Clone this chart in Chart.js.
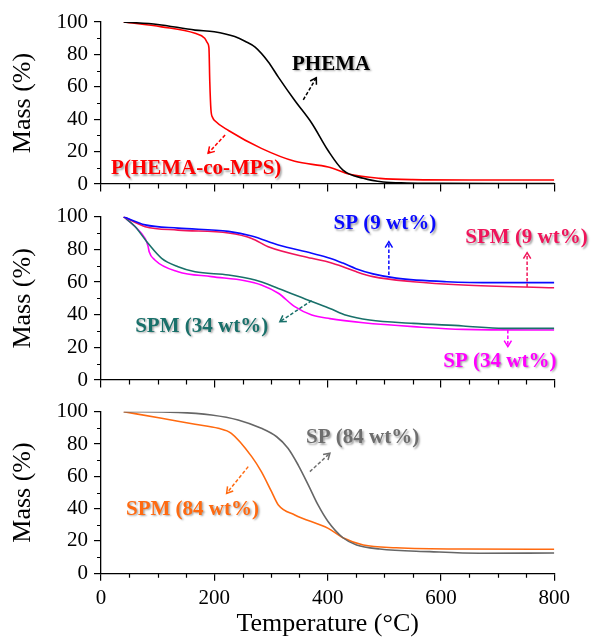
<!DOCTYPE html>
<html>
<head>
<meta charset="utf-8">
<script src="https://cdn.jsdelivr.net/npm/chart.js@4.4.1/dist/chart.umd.min.js"></script>
<style>
  html, body { margin: 0; padding: 0; background: #fff; }
  #wrap { position: relative; width: 591px; height: 640px; }
  canvas { position: absolute; left: 0; }
</style>
</head>
<body>
<div id="wrap">
  <canvas id="panelTop" width="591" height="200" style="top:0px"></canvas>
  <canvas id="panelMid" width="591" height="195" style="top:200px"></canvas>
  <canvas id="panelBot" width="591" height="245" style="top:395px"></canvas>
</div>
<script>
// --- data (temperature in °C, mass in %) ---
const phemaTemp = [40, 100, 166, 200, 236, 255, 272, 295, 313, 342, 372, 401, 427, 463, 498, 540, 600, 700, 800];
const phemaMass = [100, 98.5, 95, 94, 91, 88, 84.5, 75.5, 66, 51.5, 37.5, 20.5, 8.6, 3.5, 1.2, 0.6, 0.4, 0.3, 0.3];

const hemaMpsTemp = [40, 107, 166, 183, 188, 190.5, 192, 194, 197, 201, 225, 283, 342, 401, 439, 492, 550, 650, 800];
const hemaMpsMass = [100, 97, 93, 90, 87, 84, 63, 46, 41, 39, 33, 22, 14, 10.5, 6, 3.5, 2.7, 2.5, 2.5];

const sp9Temp = [40, 78, 136, 225, 266, 313, 372, 404, 427, 450, 480, 521, 610, 698, 800];
const sp9Mass = [100, 95, 93, 91, 88.2, 82.7, 77.6, 74.6, 71.6, 68.2, 65, 62.4, 60.2, 59.6, 59.6];

const spm9Temp = [40, 78, 136, 225, 266, 295, 372, 404, 427, 450, 480, 551, 639, 800];
const spm9Mass = [100, 93.9, 91.8, 90, 86.7, 81.6, 74.5, 72, 69.4, 66.4, 63.3, 60.2, 58.2, 56.5];

const spm34Temp = [40, 60, 83, 107, 136, 166, 225, 272, 313, 372, 404, 433, 474, 551, 639, 710, 800];
const spm34Mass = [100, 94, 83.7, 74.5, 69.4, 66.3, 64.3, 61.2, 56.1, 48, 43.8, 39.6, 36.7, 34.7, 33.1, 31.6, 31.6];

const sp34Temp = [40, 60, 78, 83, 85, 95, 136, 195, 254, 283, 313, 342, 372, 404, 463, 551, 639, 800];
const sp34Mass = [100, 94, 86.5, 82, 78.6, 73.5, 66.3, 63.3, 60.8, 58.2, 53.1, 44.9, 39.8, 37.6, 35.1, 32.7, 31, 30.6];

const sp84Temp = [40, 136, 195, 242, 283, 310, 330, 348, 366, 383, 401, 427, 451, 492, 580, 668, 800];
const sp84Mass = [100, 99.6, 98, 94.9, 89.7, 84.5, 77.4, 67, 54.6, 42.3, 31.9, 22, 17.5, 15, 13.4, 12.4, 12.6];

const spm84Temp = [40, 107, 166, 207, 230, 266, 283, 301, 313, 342, 401, 427, 463, 521, 639, 800];
const spm84Mass = [100, 95.9, 92.2, 89.7, 86.6, 72.2, 62.9, 50.5, 42.3, 36.1, 27.8, 22, 17.5, 15.8, 15, 14.9];

// minor tick values
const xMinor = [50, 100, 150, 250, 300, 350, 450, 500, 550, 650, 700, 750];
const yMinor = [10, 30, 50, 70, 90];

const SERIF = '"Liberation Serif", "Times New Roman", serif';

const toPoints = (t, m) => t.map((v, i) => ({ x: v, y: m[i] }));

// kleine Teilstriche zwischen den Hauptticks
const minorTicksPlugin = {
  id: 'minorTicks',
  afterDraw(chart) {
    const { ctx, scales: { x, y } } = chart;
    ctx.save();
    ctx.strokeStyle = '#000';
    ctx.lineWidth = 1.2;
    ctx.beginPath();
    yMinor.forEach(v => {
      const py = Math.round(y.getPixelForValue(v)) + 0.5;
      ctx.moveTo(y.right - 4, py);
      ctx.lineTo(y.right, py);
    });
    xMinor.forEach(v => {
      const px = Math.round(x.getPixelForValue(v)) + 0.5;
      ctx.moveTo(px, x.top);
      ctx.lineTo(px, x.top + 4.5);
    });
    ctx.stroke();
    ctx.restore();
  }
};

// labels with dashed arrows
const notesPlugin = {
  id: 'notes',
  afterDatasetsDraw(chart, args, opts) {
    const { ctx, scales: { x, y } } = chart;
    (opts.items || []).forEach(n => {
      ctx.save();
      const x1 = x.getPixelForValue(n.from[0]), y1 = y.getPixelForValue(n.from[1]);
      const x2 = x.getPixelForValue(n.to[0]), y2 = y.getPixelForValue(n.to[1]);
      ctx.strokeStyle = n.color;
      ctx.lineWidth = 1.5;
      ctx.setLineDash([3.5, 2]);
      ctx.beginPath();
      ctx.moveTo(x1, y1);
      ctx.lineTo(x2, y2);
      ctx.stroke();
      ctx.setLineDash([]);
      const a = Math.atan2(y2 - y1, x2 - x1);
      const h = 7;
      ctx.beginPath();
      ctx.moveTo(x2 - h * Math.cos(a - 0.55), y2 - h * Math.sin(a - 0.55));
      ctx.lineTo(x2, y2);
      ctx.lineTo(x2 - h * Math.cos(a + 0.55), y2 - h * Math.sin(a + 0.55));
      ctx.stroke();

      ctx.font = 'bold 21px ' + SERIF;
      ctx.textAlign = 'center';
      ctx.textBaseline = 'alphabetic';
      ctx.shadowColor = 'rgba(0,0,0,0.35)';
      ctx.shadowBlur = 2;
      ctx.shadowOffsetX = 1.5;
      ctx.shadowOffsetY = 1.5;
      ctx.fillStyle = n.color;
      ctx.fillText(n.text, x.getPixelForValue(n.at[0]), y.getPixelForValue(n.at[1]));
      ctx.restore();
    });
  }
};

function line(label, temps, mass, color) {
  return {
    label: label,
    data: toPoints(temps, mass),
    borderColor: color,
    borderWidth: 1.6,
    pointRadius: 0,
    fill: false,
    cubicInterpolationMode: 'monotone'
  };
}

function makePanel(canvasId, datasets, notes, opt) {
  const ctx = document.getElementById(canvasId);
  return new Chart(ctx, {
    type: 'line',
    data: { datasets: datasets },
    options: {
      responsive: false,
      animation: false,
      devicePixelRatio: 1,
      layout: { padding: { top: opt.padTop, right: 36.7, left: 0, bottom: 0 } },
      plugins: {
        legend: { display: false },
        tooltip: { enabled: false },
        notes: { items: notes }
      },
      scales: {
        x: {
          type: 'linear',
          min: 0,
          max: 800,
          afterFit: s => { s.height = opt.xHeight; },
          border: { display: true, color: '#000', width: 1.3 },
          grid: { display: true, drawOnChartArea: false, drawTicks: true, tickLength: 7.5, color: '#000', lineWidth: 1.2 },
          ticks: {
            display: opt.showX,
            stepSize: 200,
            color: '#000',
            padding: 5,
            maxRotation: 0,
            font: { family: SERIF, size: 21 }
          },
          title: {
            display: opt.showX,
            text: 'Temperature (°C)',
            color: '#000',
            font: { family: SERIF, size: 26, lineHeight: 1.2 },
            padding: { top: 0, bottom: 0 }
          }
        },
        y: {
          min: 0,
          max: 100,
          afterFit: s => { s.width = 101; },
          border: { display: true, color: '#000', width: 1.3 },
          grid: { display: true, drawOnChartArea: false, drawTicks: true, tickLength: 7, color: '#000', lineWidth: 1.2 },
          ticks: {
            stepSize: 20,
            color: '#000',
            padding: 6,
            // small lineHeight so the label padding does not squeeze the plot area
            font: { family: SERIF, size: 21, lineHeight: 0.8 }
          },
          title: {
            display: true,
            text: 'Mass (%)',
            color: '#000',
            font: { family: SERIF, size: 26, lineHeight: 1.2 },
            padding: { top: 7.5, bottom: 0 }
          }
        }
      }
    },
    plugins: [minorTicksPlugin, notesPlugin]
  });
}

makePanel('panelTop', [
  line('PHEMA', phemaTemp, phemaMass, '#000000'),
  line('P(HEMA-co-MPS)', hemaMpsTemp, hemaMpsMass, '#ff0000')
], [
  { text: 'PHEMA', color: '#000000', at: [406, 70.5], from: [357, 52], to: [380, 65.6] },
  { text: 'P(HEMA-co-MPS)', color: '#ff0000', at: [168, 5.9], from: [219, 30.2], to: [189, 19] }
], { padTop: 22, xHeight: 16, showX: false });

makePanel('panelMid', [
  line('SP (9 wt%)', sp9Temp, sp9Mass, '#0a0aff'),
  line('SPM (9 wt%)', spm9Temp, spm9Mass, '#f0145a'),
  line('SPM (34 wt%)', spm34Temp, spm34Mass, '#19706a'),
  line('SP (34 wt%)', sp34Temp, sp34Mass, '#ff00ff')
], [
  { text: 'SP (9 wt%)', color: '#0a0aff', at: [501, 92.2], from: [508, 64.3], to: [508, 84.7] },
  { text: 'SPM (9 wt%)', color: '#f0145a', at: [751, 83.7], from: [752, 56.9], to: [752, 78] },
  { text: 'SPM (34 wt%)', color: '#19706a', at: [177.6, 29.6], from: [371.6, 48.6], to: [315.7, 35.7] },
  { text: 'SP (34 wt%)', color: '#ff00ff', at: [704, 8.2], from: [718, 30.6], to: [718, 20.4] }
], { padTop: 16.7, xHeight: 15, showX: false });

makePanel('panelBot', [
  line('SP (84 wt%)', sp84Temp, sp84Mass, '#666666'),
  line('SPM (84 wt%)', spm84Temp, spm84Mass, '#ff6a10')
], [
  { text: 'SP (84 wt%)', color: '#6e6e6e', at: [461.8, 80.4], from: [368.6, 62.9], to: [404, 74.3] },
  { text: 'SPM (84 wt%)', color: '#ff6a10', at: [161.4, 36.1], from: [259.8, 66], to: [221.7, 49.5] }
], { padTop: 16.7, xHeight: 66.7, showX: true });
</script>
</body>
</html>
